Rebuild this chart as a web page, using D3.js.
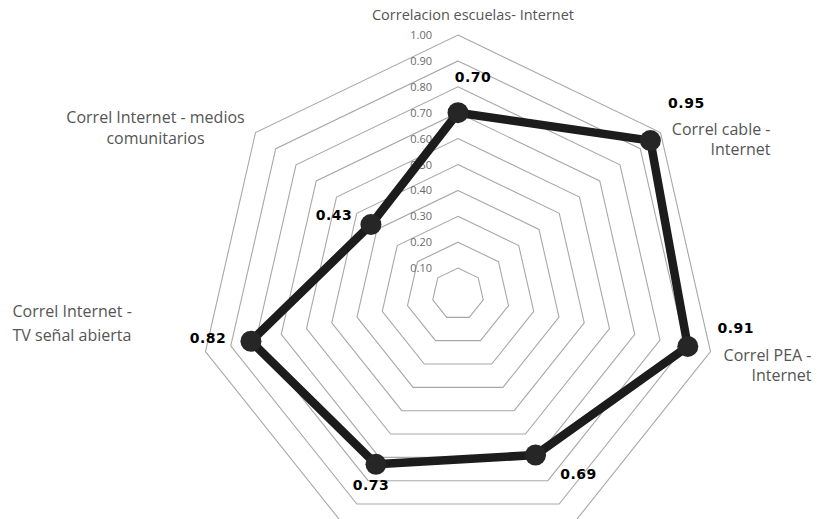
<!DOCTYPE html>
<html>
<head>
<meta charset="utf-8">
<script src="https://cdn.jsdelivr.net/npm/d3@7"></script>
<style>
  body { margin: 0; background: #fff; }
  .cat { font-family: 'Open Sans', sans-serif; font-size: 16px; fill: #555; }
  .tick { font-family: 'Open Sans', sans-serif; font-size: 11px; fill: #6a6a6a; }
  .val { font-family: 'DejaVu Sans', sans-serif; font-weight: bold; font-size: 14px; fill: #000; letter-spacing: 0.5px; }
</style>
</head>
<body>
<div id="chart"></div>
<script>
// axes, clockwise from the top (the two bottom names are cut off in the picture)
var categories = [
  ['Correlacion escuelas- Internet'],
  ['Correl cable -', 'Internet'],
  ['Correl PEA -', 'Internet'],
  [''],
  [''],
  ['Correl Internet -', 'TV señal abierta'],
  ['Correl Internet - medios', 'comunitarios']
];
var values = [0.70, 0.95, 0.91, 0.69, 0.73, 0.82, 0.43];
var ticks = [0.1, 0.2, 0.3, 0.4, 0.5, 0.6, 0.7, 0.8, 0.9, 1.0];

var width = 830, height = 519;
var cx = 458, cy = 294, R = 259;

var svg = d3.select('#chart').append('svg').attr('width', width).attr('height', height);
var g = svg.append('g').attr('transform', `translate(${cx},${cy})`);

var r = d3.scaleLinear().domain([0, 1]).range([0, R]);
var n = categories.length;
var angle = i => i * 2 * Math.PI / n;
var px = (i, v) => r(v) * Math.sin(angle(i));
var py = (i, v) => -r(v) * Math.cos(angle(i));

// web
var ring = d3.lineRadial().angle(d => d.a).radius(d => d.r).curve(d3.curveLinearClosed);
g.selectAll('.ring').data(ticks).enter().append('path')
    .attr('class', 'ring')
    .attr('d', t => ring(d3.range(n).map(i => ({a: angle(i), r: r(t)}))))
    .attr('fill', 'none').attr('stroke', '#a8a8a8').attr('stroke-width', 1.1);

// tick labels along the top axis
g.selectAll('.tick').data(ticks).enter().append('text')
    .attr('class', 'tick')
    .attr('x', -26).attr('y', t => -r(t) + 4)
    .attr('text-anchor', 'end')
    .text(t => t.toFixed(2));

// series
var line = d3.lineRadial().angle((d, i) => angle(i)).radius(d => r(d)).curve(d3.curveLinearClosed);
g.append('path').attr('d', line(values))
    .attr('fill', 'none').attr('stroke', '#1c1c1c').attr('stroke-width', 8.5).attr('stroke-linejoin', 'round');

g.selectAll('.dot').data(values).enter().append('circle')
    .attr('cx', (d, i) => px(i, d)).attr('cy', (d, i) => py(i, d))
    .attr('r', 10.5).attr('fill', '#262626');

// value labels, offsets from the marker
var valOff = [[15, -31], [36, -33], [48, -13], [43, 24], [-5, 26], [-43, 2], [-37, -5]];
g.selectAll('.val').data(values).enter().append('text')
    .attr('class', 'val')
    .attr('text-anchor', 'middle')
    .attr('x', (d, i) => px(i, d) + valOff[i][0])
    .attr('y', (d, i) => py(i, d) + valOff[i][1])
    .text(d => d.toFixed(2));

// category labels, placed relative to the outer ring vertex
var catPos = [
  {dx: 15, dy: -15, anchor: 'middle', lh: 20, fs: 14.5},
  {dx: 110, dy: 2, anchor: 'end', lh: 20, fs: 16},
  {dx: 101, dy: 9, anchor: 'end', lh: 20, fs: 16},
  {dx: 0, dy: 40, anchor: 'middle', lh: 20, fs: 16},
  {dx: 0, dy: 40, anchor: 'middle', lh: 20, fs: 16},
  {dx: -193, dy: -35, anchor: 'start', lh: 24, fs: 16},
  {dx: -100, dy: -10, anchor: 'middle', lh: 21, fs: 16}
];
categories.forEach(function (lines, i) {
    var p = catPos[i];
    var t = g.append('text').attr('class', 'cat').attr('text-anchor', p.anchor)
        .style('font-size', p.fs + 'px')
        .attr('x', px(i, 1) + p.dx).attr('y', py(i, 1) + p.dy);
    lines.forEach(function (s, j) {
        t.append('tspan').attr('x', px(i, 1) + p.dx).attr('dy', j ? p.lh : 0).text(s);
    });
});
</script>
</body>
</html>
